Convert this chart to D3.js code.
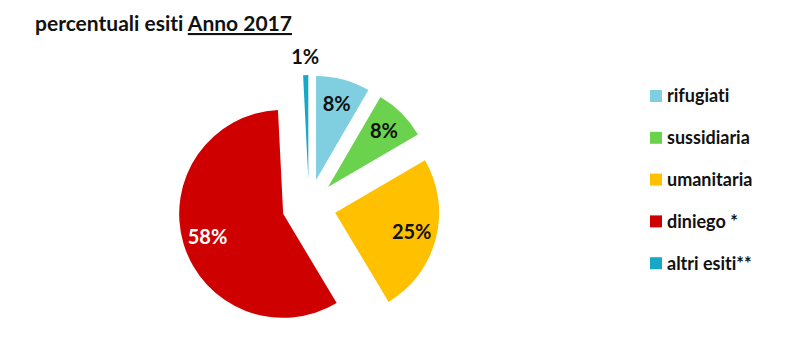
<!DOCTYPE html>
<html>
<head>
<meta charset="utf-8">
<script src="https://cdn.jsdelivr.net/npm/d3@7"></script>
<style>
  body { margin: 0; background: #fff; }
  text { font-family: Lato, 'Open Sans', sans-serif; font-weight: bold; font-variant-ligatures: none; }
</style>
</head>
<body>
<svg class="esiti-chart" width="800" height="337"></svg>
<script>
const categories = ['rifugiati', 'sussidiaria', 'umanitaria', 'diniego *', 'altri esiti**']
const values = [8.4, 8.2, 24.8, 57.8, 0.8]
const colors = ['#7fcfe0', '#6bd24d', '#ffc000', '#cf0000', '#17a8c6']

const data = categories.map((c, i) => ({ name: c, value: values[i], color: colors[i] }))

const drawPie = data => {
  const svg = d3.select('.esiti-chart')
  const cx = 309, cy = 206, radius = 104, explode = 27

  svg.append('text')
    .attr('x', 35)
    .attr('y', 31)
    .style('font-size', '21px')
    .attr('fill', '#111')
    .call(t => {
      t.append('tspan').text('percentuali esiti ')
      t.append('tspan').attr('text-decoration', 'underline').text('Anno 2017')
    })

  const total = d3.sum(data, d => d.value)
  const pie = d3.pie().sort(null).value(d => d.value)
  const arc = d3.arc().innerRadius(0).outerRadius(radius)
  const labelArc = d3.arc().innerRadius(radius * 0.76).outerRadius(radius * 0.76)
  const outerLabelArc = d3.arc().innerRadius(radius * 1.17).outerRadius(radius * 1.17)
  const fmt = d3.format('.0%')

  const shift = d => {
    const a = (d.startAngle + d.endAngle) / 2
    return [Math.sin(a) * explode, -Math.cos(a) * explode]
  }

  const g = svg.append('g').attr('transform', 'translate(' + cx + ',' + cy + ')')

  const slices = g.selectAll('.slice')
    .data(pie(data))
    .enter().append('g')
    .attr('class', 'slice')
    .attr('transform', d => 'translate(' + shift(d) + ')')

  slices.append('path')
    .attr('d', arc)
    .attr('fill', d => d.data.color)

  slices.append('text')
    .attr('transform', d => {
      const share = d.data.value / total
      const p = share < 0.02 ? outerLabelArc.centroid(d) : labelArc.centroid(d)
      return 'translate(' + p + ')'
    })
    .attr('text-anchor', 'middle')
    .attr('dy', '0.35em')
    .style('font-size', '20px')
    .attr('fill', d => d.data.value > 50 ? '#fff' : '#111')
    .text(d => fmt(d.data.value / total))

  const legend = svg.append('g').attr('transform', 'translate(650,96)')
  const item = legend.selectAll('.item')
    .data(data)
    .enter().append('g')
    .attr('transform', (d, i) => 'translate(0,' + i * 41.8 + ')')

  item.append('rect')
    .attr('x', 0)
    .attr('y', -6)
    .attr('width', 12)
    .attr('height', 12)
    .attr('fill', d => d.color)

  item.append('text')
    .attr('x', 17)
    .attr('dy', '0.35em')
    .style('font-size', '18px')
    .attr('fill', '#111')
    .text(d => d.name)
}

drawPie(data)
</script>
</body>
</html>
